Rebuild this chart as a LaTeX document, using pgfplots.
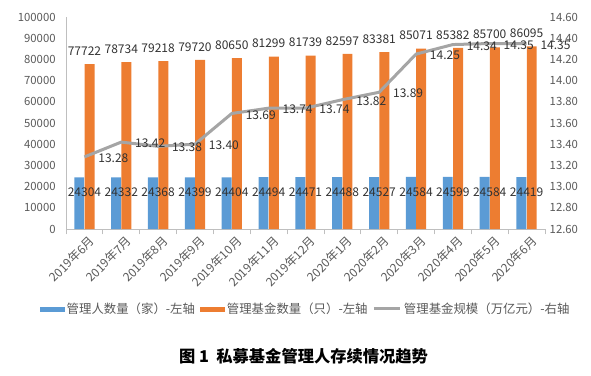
\documentclass[border=0pt]{standalone}
\usepackage{pgfplots}
\pgfplotsset{compat=1.18}
\usepackage{fontspec}
\setmainfont{Noto Sans CJK SC}
\definecolor{cblue}{RGB}{91,155,213}
\definecolor{corange}{RGB}{237,125,49}
\definecolor{cgray}{RGB}{165,165,165}
\definecolor{ctext}{RGB}{50,50,50}
\definecolor{ctick}{RGB}{89,89,89}
\definecolor{caxis}{RGB}{191,191,191}
\pgfplotsset{/pgf/number format/assume math mode=true}
\begin{document}
\begin{tikzpicture}
\pgfplotsset{common/.style={width=359.25pt,height=159pt,scale only axis,
  xmin=-0.5,xmax=12.5,at={(0,0)},anchor=south west,clip=false}}
\begin{axis}[common,name=ax,
  ymin=0,ymax=100000,ytick={0,10000,...,100000},scaled y ticks=false,
  yticklabel style={/pgf/number format/fixed,/pgf/number format/1000 sep={},
    font=\fontsize{8.5}{10}\selectfont,text=ctick},
  axis x line*=bottom,axis y line*=left,axis line style={caxis,line width=0.6pt},
  y axis line style={-},x axis line style={-},
  ytick style={draw=none},
  xtick={0,...,12},
  xticklabels={2019年6月,2019年7月,2019年8月,2019年9月,2019年10月,2019年11月,2019年12月,2020年1月,2020年2月,2020年3月,2020年4月,2020年5月,2020年6月},
  xticklabel style={rotate=45,anchor=north east,font=\fontsize{9}{10}\selectfont,text=ctick,inner sep=1pt,xshift=3pt,yshift=-1pt},
  major x tick style={draw=none},
  minor xtick={-0.5,0.5,...,12.5},
  minor x tick style={caxis,line width=0.6pt},
  tick align=outside,minor tick length=4pt,
  every node near coord/.append style={font=\fontsize{9}{10}\selectfont,text=ctext,
    /pgf/number format/fixed,/pgf/number format/1000 sep={}},
]
\addplot[ybar,bar width=0.27,bar shift=-0.14,fill=cblue,draw=none,
  nodes near coords,
  every node near coord/.append style={anchor=center,yshift=-11.3pt}]
  coordinates {(0,24304)(1,24332)(2,24368)(3,24399)(4,24404)(5,24494)(6,24471)
  (7,24488)(8,24527)(9,24584)(10,24599)(11,24584)(12,24419)};
\addplot[ybar,bar width=0.27,bar shift=0.14,fill=corange,draw=none,
  nodes near coords,
  every node near coord/.append style={anchor=south,yshift=3pt}]
  coordinates {(0,77722)(1,78734)(2,79218)(3,79720)(4,80650)(5,81299)(6,81739)
  (7,82597)(8,83381)(9,85071)(10,85382)(11,85700)(12,86095)};
\end{axis}
\begin{axis}[common,
  ymin=12.6,ymax=14.6,ytick={12.6,12.8,13.0,13.2,13.4,13.6,13.8,14.0,14.2,14.4,14.6},
  axis y line*=right,axis x line=none,y axis line style={draw=none},
  ytick style={draw=none},
  yticklabel style={/pgf/number format/fixed,/pgf/number format/fixed zerofill,
    /pgf/number format/precision=2,font=\fontsize{8.5}{10}\selectfont,text=ctick},
  legend columns=3,
  legend style={at={(0.5,-0.377)},anchor=center,draw=none,fill=none,
    font=\fontsize{9.3}{10}\selectfont,text=ctick,inner sep=0pt,
    /tikz/every even column/.append style={column sep=2pt},
    nodes={inner sep=1.5pt}},
]
\addlegendimage{legend image code/.code={\fill[cblue] (0pt,-1.6pt) rectangle (18.5pt,1.6pt);}}
\addlegendentry{管理人数量（家）-左轴}
\addlegendimage{legend image code/.code={\fill[corange] (0pt,-1.6pt) rectangle (18.5pt,1.6pt);}}
\addlegendentry{管理基金数量（只）-左轴}
\addplot[cgray,line width=2.25pt,mark=none,
  legend image code/.code={\draw[cgray,line width=2.25pt] (0pt,0pt) -- (20pt,0pt);},
  nodes near coords,
  every node near coord/.append style={anchor=west,xshift=6pt,yshift=-1pt,
    font=\fontsize{9}{10}\selectfont,text=ctext,
    /pgf/number format/fixed,/pgf/number format/fixed zerofill,/pgf/number format/precision=2}]
  coordinates {(0,13.28)(1,13.42)(2,13.38)(3,13.40)(4,13.69)(5,13.74)(6,13.74)
  (7,13.82)(8,13.89)(9,14.25)(10,14.34)(11,14.35)(12,14.35)};
\addlegendentry{管理基金规模（万亿元）-右轴}
\end{axis}
\node[font=\bfseries\fontsize{12.2}{14}\selectfont,text=black] at ([xshift=-1.5pt,yshift=-95.25pt]ax.south) {图 1\ \ 私募基金管理人存续情况趋势};
\path[use as bounding box] ([shift={(-49.5pt,-109.5pt)}]ax.south west) rectangle ([shift={(393.75pt,171.75pt)}]ax.south west);
\end{tikzpicture}
\end{document}
